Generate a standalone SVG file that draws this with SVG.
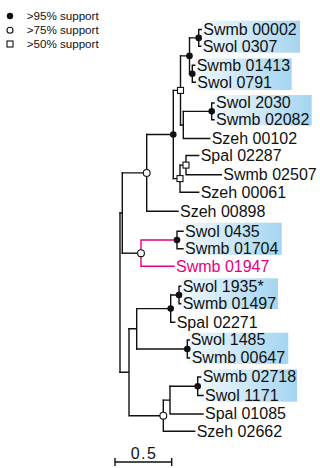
<svg xmlns="http://www.w3.org/2000/svg" width="320" height="468" viewBox="0 0 320 468">
  <defs>
    <linearGradient id="hl" x1="0" y1="0" x2="1" y2="0">
      <stop offset="0" stop-color="#f1f8fd"/>
      <stop offset="1" stop-color="#a5d5f1"/>
    </linearGradient>
  </defs>
  <style>
    .lbl { font-family: "Liberation Sans", Arial, sans-serif; font-size: 16px; fill: #111; }
    .leg { font-family: "Liberation Sans", Arial, sans-serif; font-size: 10.5px; fill: #111; }
    .pink { fill: #e6007e; }
    .br { fill: none; stroke: #111; stroke-width: 1.4; stroke-linecap: square; }
    .brp { fill: none; stroke: #e6007e; stroke-width: 1.4; stroke-linecap: square; }
    .hl { fill: url(#hl); }
    .full { fill: #111; stroke: none; }
    .open { fill: #fff; stroke: #111; stroke-width: 1.1; }
  </style>

  <!-- legend -->
  <g id="legend">
    <circle class="full" cx="10" cy="16" r="3.2"/>
    <text class="leg" x="26.7" y="19.6" textLength="72" lengthAdjust="spacingAndGlyphs">&gt;95% support</text>
    <circle class="open" cx="10" cy="30.3" r="3"/>
    <text class="leg" x="26.7" y="33.8" textLength="72" lengthAdjust="spacingAndGlyphs">&gt;75% support</text>
    <rect class="open" x="7" y="41" width="6" height="6"/>
    <text class="leg" x="26.7" y="48" textLength="72" lengthAdjust="spacingAndGlyphs">&gt;50% support</text>
  </g>

  <!-- highlighted pairs -->
  <g id="highlights">
    <rect class="hl" x="201.7" y="20.7" width="98.3" height="32"/>
    <rect class="hl" x="195" y="58.3" width="96.7" height="31.7"/>
    <rect class="hl" x="214" y="95" width="97.7" height="30.5"/>
    <rect class="hl" x="183.3" y="222.7" width="98.4" height="32.3"/>
    <rect class="hl" x="180" y="278.3" width="98" height="30.7"/>
    <rect class="hl" x="188.3" y="332.7" width="100" height="31.3"/>
    <rect class="hl" x="200" y="369.3" width="97" height="32.4"/>
  </g>

  <!-- branches -->
  <g id="connectors">
    <!-- root -->
    <path class="br" d="M120,213 V372.3"/>
    <path class="br" d="M120,213 H122.3 M122.3,172.9 V253.2"/>
    <!-- upper clade -->
    <path class="br" d="M122.3,172.9 H146.7 M146.7,134.5 V211.3 H178"/>
    <path class="br" d="M146.7,134.5 H173.3 M173.3,90.4 V178.6"/>
    <path class="br" d="M173.3,90.4 H180.5 M180.5,55.9 V125"/>
    <path class="br" d="M180.5,55.9 H189.5 M189.5,37.9 V73.75"/>
    <path class="br" d="M189.5,37.9 H198.7 M201.3,29.5 H198.7 V46.3 H200.7"/>
    <path class="br" d="M189.5,73.75 H192.3 M194.7,65.3 H192.3 V82.2 H195.3"/>
    <path class="br" d="M180.5,125 H183.3 M183.3,111.35 V138.5 H209.7"/>
    <path class="br" d="M183.3,111.35 H211.7 M214,103 H211.7 V119.7 H214"/>
    <path class="br" d="M173.3,178.6 H180 M180,165.1 V192.2 H198.7"/>
    <path class="br" d="M180,165.1 H186 M198.7,155.5 H186 V174.7 H221.3"/>
    <!-- highlighted lineage -->
    <path class="br" d="M122.3,253.2 H141"/>
    <path class="brp" d="M176,240 H141 V266.3 H174"/>
    <path class="br" d="M183,231.3 H177 V248.8 H183"/>
    <!-- lower clade -->
    <path class="br" d="M120,372.3 H129 M129,328.8 V415.7 H163.3"/>
    <path class="br" d="M129,328.8 H136.7 M136.7,308.6 V349"/>
    <path class="br" d="M136.7,308.6 H170.7 M170.7,295 V322.2 H174.7"/>
    <path class="br" d="M170.7,295 H179 M180.7,286.3 H179 V303.7 H180.7"/>
    <path class="br" d="M136.7,349 H187.3 M189.3,340 H187.3 V358 H189.3"/>
    <path class="br" d="M163.3,400.1 V431.3 H194.7"/>
    <path class="br" d="M163.3,400.1 H170 M170,386.3 V414 H203"/>
    <path class="br" d="M170,386.3 H197.7 M200.7,377 H197.7 V395.5 H203"/>
    <!-- scale bar -->
    <path class="br" d="M115,462 H171.7 M115,458.7 V465.3 M171.7,458.7 V465.3" stroke-linecap="butt"/>
  </g>

  <!-- support markers -->
  <g id="supports">
    <circle class="full" cx="198.7" cy="37.9" r="3.3"/>
    <circle class="full" cx="192.3" cy="73.75" r="3.3"/>
    <circle class="full" cx="189.5" cy="55.9" r="3.3"/>
    <circle class="full" cx="211.7" cy="111.35" r="3.3"/>
    <rect class="open" x="177.5" y="87.4" width="6" height="6"/>
    <circle class="full" cx="173.3" cy="134.5" r="3.3"/>
    <rect class="open" x="183" y="162.1" width="6" height="6"/>
    <rect class="open" x="177" y="175.6" width="6" height="6"/>
    <circle class="open" cx="146.7" cy="172.9" r="3.4"/>
    <circle class="full" cx="177" cy="240" r="3.3"/>
    <circle class="open" cx="141" cy="253.2" r="3.4"/>
    <circle class="full" cx="179" cy="295" r="3.3"/>
    <circle class="full" cx="170.7" cy="308.6" r="3.3"/>
    <circle class="full" cx="187.3" cy="349" r="3.3"/>
    <circle class="full" cx="197.7" cy="386.3" r="3.3"/>
    <circle class="open" cx="163.3" cy="415.7" r="3.4"/>
  </g>

  <!-- leaf labels -->
  <g id="labels">
    <text class="lbl" x="203.3" y="34.8">Swmb 00002</text>
    <text class="lbl" x="202.7" y="51.6">Swol 0307</text>
    <text class="lbl" x="196.7" y="70.6">Swmb 01413</text>
    <text class="lbl" x="197.3" y="87.5">Swol 0791</text>
    <text class="lbl" x="216" y="108.3">Swol 2030</text>
    <text class="lbl" x="216" y="125">Swmb 02082</text>
    <text class="lbl" x="211.7" y="143.8">Szeh 00102</text>
    <text class="lbl" x="200.7" y="160.8">Spal 02287</text>
    <text class="lbl" x="223.3" y="180">Swmb 02507</text>
    <text class="lbl" x="200.7" y="197.5">Szeh 00061</text>
    <text class="lbl" x="180" y="216.6">Szeh 00898</text>
    <text class="lbl" x="185" y="236.6">Swol 0435</text>
    <text class="lbl" x="185" y="254.1">Swmb 01704</text>
    <text class="lbl pink" x="176" y="271.6">Swmb 01947</text>
    <text class="lbl" x="182.7" y="291.6">Swol 1935*</text>
    <text class="lbl" x="182.7" y="309">Swmb 01497</text>
    <text class="lbl" x="176.7" y="327.5">Spal 02271</text>
    <text class="lbl" x="190.7" y="345.3">Swol 1485</text>
    <text class="lbl" x="191.7" y="363.3">Swmb 00647</text>
    <text class="lbl" x="202.7" y="382.3">Swmb 02718</text>
    <text class="lbl" x="205" y="400.8">Swol 1171</text>
    <text class="lbl" x="205" y="419.3">Spal 01085</text>
    <text class="lbl" x="196.7" y="436.6">Szeh 02662</text>
    <text class="lbl" x="144" y="459" text-anchor="middle" letter-spacing="1.5">0.5</text>
  </g>
</svg>
